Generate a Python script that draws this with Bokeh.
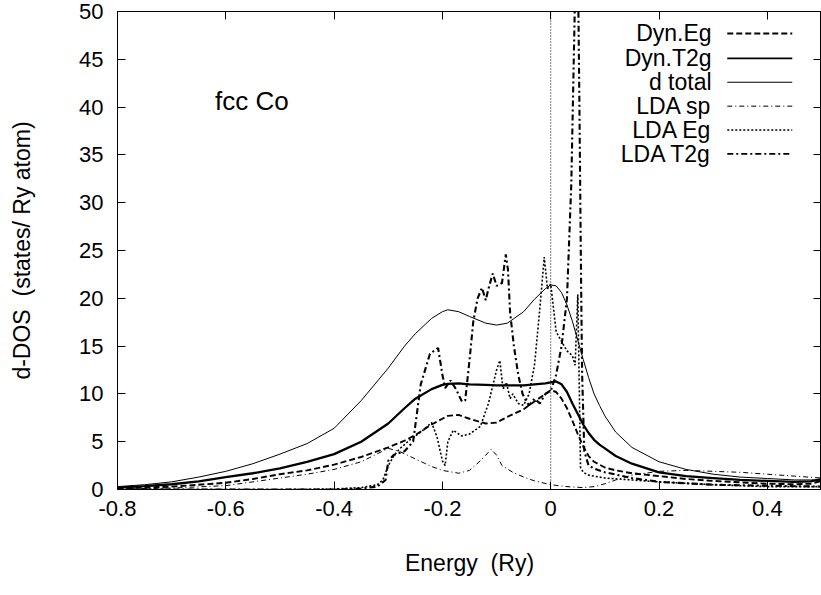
from bokeh.plotting import figure
from bokeh.models import Range1d, LinearAxis, FixedTicker, CustomJSTickFormatter, Span, Label
from bokeh.embed import file_html
from bokeh.resources import INLINE

# ---------------- data ----------------
x_ticks = [-0.8, -0.6, -0.4, -0.2, 0.0, 0.2, 0.4]
y_ticks = [0, 5, 10, 15, 20, 25, 30, 35, 40, 45, 50]

e_dyn = [-0.8, -0.75, -0.7, -0.65, -0.6, -0.55, -0.5, -0.45, -0.4, -0.35, -0.3, -0.27,
         -0.25, -0.22, -0.2, -0.19, -0.17, -0.15, -0.12, -0.1, -0.08, -0.05, -0.03,
         -0.01, 0.0, 0.01, 0.02, 0.03, 0.04, 0.05, 0.06, 0.07, 0.08, 0.09, 0.1, 0.12,
         0.15, 0.2, 0.25, 0.3, 0.35, 0.4, 0.45, 0.48, 0.5]
dyn_t2g = [0.2, 0.35, 0.55, 0.85, 1.3, 1.7, 2.2, 2.9, 3.7, 5.0, 6.9, 8.5,
           9.5, 10.5, 10.95, 11.05, 11.1, 11.0, 10.95, 10.9, 10.9, 10.9, 11.0,
           11.1, 11.2, 11.3, 11.0, 10.2, 9.0, 7.9, 6.8, 5.9, 5.2, 4.7, 4.3, 3.5,
           2.7, 1.8, 1.4, 1.2, 1.0, 0.9, 0.8, 0.85, 1.1]
d_total = [0.3, 0.5, 0.8, 1.3, 1.9, 2.7, 3.7, 4.8, 6.4, 9.3, 12.7, 15.0,
           16.3, 17.9, 18.6, 18.8, 18.6, 18.1, 17.4, 17.2, 17.4, 18.6, 19.9,
           21.0, 21.4, 21.3, 20.6, 19.3, 17.6, 15.6, 13.6, 11.7, 10.0, 8.8, 7.7, 6.0,
           4.4, 2.9, 2.1, 1.6, 1.3, 1.15, 1.0, 1.0, 1.0]
dyn_eg = [0.1, 0.2, 0.3, 0.5, 0.7, 1.1, 1.6, 2.0, 2.6, 3.4, 4.4, 5.1,
          5.7, 6.8, 7.4, 7.7, 7.8, 7.4, 6.9, 7.0, 7.6, 8.4, 9.2,
          10.0, 10.4, 10.2, 9.5, 8.5, 7.2, 5.8, 4.5, 3.5, 2.9, 2.6, 2.3, 2.0,
          1.7, 1.4, 1.1, 0.9, 0.75, 0.6, 0.55, 0.6, 0.9]

e_sp = [-0.8, -0.7, -0.6, -0.5, -0.45, -0.4, -0.35, -0.3, -0.28, -0.25, -0.22, -0.2,
        -0.17, -0.15, -0.13, -0.11, -0.1, -0.09, -0.07, -0.05, -0.03, 0.0, 0.03,
        0.06, 0.08, 0.1, 0.12, 0.15, 0.2, 0.25, 0.3, 0.35, 0.4, 0.45, 0.5]
lda_sp = [0.05, 0.15, 0.4, 1.2, 1.6, 2.1, 2.9, 4.3, 4.0, 3.2, 2.4, 2.0,
          1.7, 2.0, 3.0, 4.2, 3.6, 2.5, 1.8, 1.3, 0.9, 0.5, 0.3,
          0.2, 0.3, 0.6, 1.0, 1.5, 1.9, 2.0, 1.9, 1.8, 1.6, 1.4, 1.2]

e_eg = [-0.8, -0.5, -0.4, -0.35, -0.32, -0.31, -0.3, -0.29, -0.28, -0.26, -0.24, -0.22,
        -0.21, -0.2, -0.195, -0.19, -0.18, -0.165, -0.15, -0.13, -0.115, -0.1, -0.094,
        -0.088, -0.082, -0.075, -0.07, -0.06, -0.05, -0.04, -0.03, -0.02, -0.012,
        -0.006, 0.0, 0.01, 0.02, 0.03, 0.04, 0.045, 0.05, 0.055, 0.06, 0.07, 0.1,
        0.15, 0.2, 0.3, 0.4, 0.5]
lda_eg = [0.0, 0.0, 0.05, 0.2, 0.5, 1.0, 2.5, 3.5, 4.2, 5.2, 6.0, 7.0,
          5.5, 3.0, 2.5, 5.0, 6.2, 5.6, 5.8, 6.6, 9.0, 12.5, 13.5,
          10.5, 11.2, 9.5, 10.0, 9.0, 8.8, 10.0, 13.0, 19.0, 24.3,
          21.0, 21.5, 16.5, 15.5, 14.5, 14.0, 13.0, 20.4, 2.3, 1.8, 1.5, 1.2,
          1.0, 0.8, 0.5, 0.3, 0.3]

e_t2g = [-0.8, -0.4, -0.35, -0.32, -0.305, -0.3, -0.29, -0.27, -0.254, -0.24, -0.223,
         -0.208, -0.2, -0.195, -0.185, -0.175, -0.164, -0.158, -0.15, -0.143, -0.135,
         -0.127, -0.12, -0.115, -0.107, -0.1, -0.09, -0.083, -0.079, -0.075, -0.068,
         -0.06, -0.052, -0.045, -0.04, -0.03, -0.02, -0.01, 0.0, 0.01, 0.02, 0.03,
         0.038, 0.045, 0.05, 0.053, 0.056, 0.058, 0.062, 0.07, 0.08, 0.1, 0.15, 0.2,
         0.3, 0.4, 0.5]
lda_t2g = [0.0, 0.0, 0.1, 0.3, 1.0, 3.0, 3.6, 4.0, 5.0, 11.0, 14.2,
           14.8, 12.0, 10.6, 11.4, 10.5, 9.2, 9.3, 13.5, 17.6, 20.0,
           21.1, 19.8, 21.0, 22.6, 21.3, 21.6, 24.6, 23.0, 18.5, 15.0,
           12.0, 10.0, 9.2, 8.8, 9.5, 9.0, 10.0, 10.3, 12.0, 15.0, 20.0,
           32.0, 52.0, 56.0, 40.0, 22.0, 12.0, 4.0, 2.5, 2.2, 1.8, 1.2, 0.8,
           0.5, 0.4, 0.3]

legend_labels = ["Dyn.Eg", "Dyn.T2g", "d total", "LDA sp", "LDA Eg", "LDA T2g"]

FONT = "Liberation Sans"
FS = "23px"
TICK_FS = "22px"

p = figure(width=821, height=595, output_backend="svg", toolbar_location=None,
           x_range=Range1d(-0.8, 0.5), y_range=Range1d(0, 50),
           min_border_left=117, min_border_right=0, min_border_top=11, min_border_bottom=106)
p.background_fill_color = "white"
p.border_fill_color = "white"
p.outline_line_color = "black"
p.outline_line_width = 1
p.xgrid.visible = False
p.ygrid.visible = False

for ax in (p.xaxis[0], p.yaxis[0]):
    ax.major_tick_in = 8
    ax.major_tick_out = 0
    ax.minor_tick_line_color = None
    ax.axis_line_color = "black"
    ax.major_tick_line_color = "black"
    ax.major_label_text_font = FONT
    ax.major_label_text_font_size = TICK_FS
    ax.major_label_text_color = "black"
    ax.axis_label_text_font = FONT
    ax.axis_label_text_font_size = FS
    ax.axis_label_text_font_style = "normal"
    ax.axis_label_text_color = "black"

p.xaxis[0].ticker = FixedTicker(ticks=x_ticks)
p.yaxis[0].ticker = FixedTicker(ticks=y_ticks)
# plain ASCII hyphen for negatives, "0" at zero (gnuplot style)
p.xaxis[0].formatter = CustomJSTickFormatter(
    code="return Math.abs(tick) < 1e-9 ? '0' : tick.toFixed(1);")
p.yaxis[0].formatter = CustomJSTickFormatter(code="return tick.toFixed(0);")
p.xaxis[0].major_label_standoff = 11
p.yaxis[0].major_label_standoff = 14
p.xaxis[0].axis_label = "Energy \u00a0(Ry)"
p.yaxis[0].axis_label = "d-DOS \u00a0(states/ Ry atom)"
p.xaxis[0].axis_label_standoff = 31
p.yaxis[0].axis_label_standoff = 41

blank = CustomJSTickFormatter(code="return ''")
top = LinearAxis(ticker=FixedTicker(ticks=x_ticks), formatter=blank)
right = LinearAxis(ticker=FixedTicker(ticks=y_ticks), formatter=blank)
for ax in (top, right):
    ax.major_tick_in = 8
    ax.major_tick_out = 0
    ax.minor_tick_line_color = None
    ax.major_label_text_font_size = "0px"
    ax.major_label_standoff = 0
    ax.axis_line_color = "black"
p.add_layout(top, "above")
p.add_layout(right, "right")

p.add_layout(Span(location=0, dimension="height", line_color="black",
                  line_dash="1 2", line_width=1))

styles = {
    "Dyn.Eg": dict(line_width=1.9, line_dash="6 3"),
    "Dyn.T2g": dict(line_width=2.3, line_dash="solid"),
    "d total": dict(line_width=1.0, line_dash="solid"),
    "LDA sp": dict(line_width=1.0, line_dash="5 3 1 3"),
    "LDA Eg": dict(line_width=1.6, line_dash="2 2"),
    "LDA T2g": dict(line_width=2.1, line_dash="6 3 2 3"),
}
series = {
    "Dyn.Eg": (e_dyn, dyn_eg),
    "Dyn.T2g": (e_dyn, dyn_t2g),
    "d total": (e_dyn, d_total),
    "LDA sp": (e_sp, lda_sp),
    "LDA Eg": (e_eg, lda_eg),
    "LDA T2g": (e_t2g, lda_t2g),
}
for name in legend_labels:
    xs, ys = series[name]
    p.line(xs, ys, line_color="black", **styles[name])

# legend (label on the left, sample on the right, like gnuplot)
row_y = [47.7, 45.1, 42.6, 40.1, 37.6, 35.1]
for name, yy in zip(legend_labels, row_y):
    p.add_layout(Label(x=0.297, y=yy, text=name, text_align="right", text_baseline="middle",
                       text_font=FONT, text_font_size=FS, text_color="black"))
    st = dict(styles[name])
    st["line_width"] = min(st["line_width"], 1.8)
    p.line([0.326, 0.446], [yy, yy], line_color="black", **st)

p.add_layout(Label(x=-0.62, y=40.6, text="fcc Co", text_align="left", text_baseline="middle",
                   text_font=FONT, text_font_size="26px", text_color="black"))

open("out.html", "w").write(file_html(p, INLINE))
